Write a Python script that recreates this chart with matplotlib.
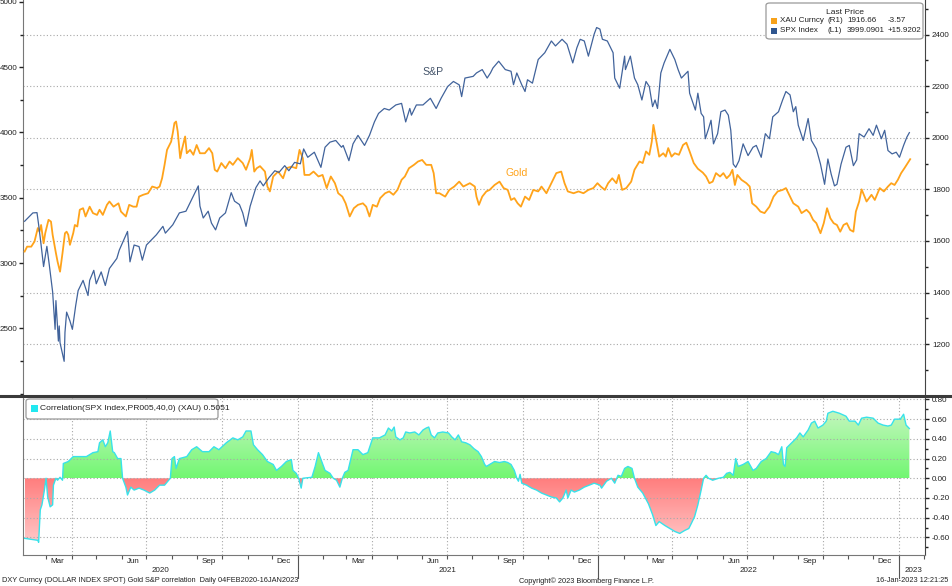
import numpy as np
import pandas as pd
import matplotlib
matplotlib.use("Agg")
import matplotlib.pyplot as plt
import matplotlib.dates as mdates
import matplotlib.transforms as mtransforms
from matplotlib import font_manager
from matplotlib.path import Path
from matplotlib.patches import FancyBboxPatch, Rectangle
from matplotlib.colors import LinearSegmentedColormap
from matplotlib.ticker import MultipleLocator, FixedLocator, FuncFormatter

# S&P 500 (SPX Index, left axis)
spx = [
    ("2020-02-04", 3320), ("2020-02-14", 3384), ("2020-02-19", 3386), ("2020-02-21", 3293),
    ("2020-02-24", 3138), ("2020-02-27", 2973), ("2020-03-02", 3128), ("2020-03-05", 2983),
    ("2020-03-09", 2779), ("2020-03-12", 2492), ("2020-03-13", 2712), ("2020-03-16", 2402),
    ("2020-03-17", 2518), ("2020-03-18", 2389), ("2020-03-23", 2247), ("2020-03-24", 2469),
    ("2020-03-26", 2624), ("2020-03-30", 2557), ("2020-04-02", 2492), ("2020-04-06", 2673),
    ("2020-04-09", 2789), ("2020-04-15", 2867), ("2020-04-21", 2751), ("2020-04-23", 2867),
    ("2020-04-28", 2944), ("2020-05-01", 2841), ("2020-05-07", 2932), ("2020-05-12", 2828),
    ("2020-05-17", 2958), ("2020-05-26", 3035), ("2020-05-29", 3099), ("2020-06-08", 3242),
    ("2020-06-11", 3009), ("2020-06-16", 3138), ("2020-06-22", 3126), ("2020-06-26", 3022),
    ("2020-07-01", 3138), ("2020-07-07", 3177), ("2020-07-13", 3216), ("2020-07-21", 3281),
    ("2020-07-24", 3229), ("2020-08-02", 3293), ("2020-08-10", 3384), ("2020-08-18", 3397),
    ("2020-08-26", 3500), ("2020-09-02", 3591), ("2020-09-04", 3436), ("2020-09-08", 3345),
    ("2020-09-14", 3397), ("2020-09-18", 3306), ("2020-09-23", 3254), ("2020-09-28", 3345),
    ("2020-10-05", 3384), ("2020-10-12", 3539), ("2020-10-16", 3474), ("2020-10-22", 3448),
    ("2020-10-26", 3384), ("2020-10-30", 3281), ("2020-11-04", 3435), ("2020-11-09", 3539),
    ("2020-11-11", 3578), ("2020-11-16", 3629), ("2020-11-20", 3591), ("2020-11-27", 3655),
    ("2020-12-04", 3707), ("2020-12-09", 3694), ("2020-12-16", 3746), ("2020-12-21", 3707),
    ("2020-12-28", 3771), ("2021-01-04", 3760), ("2021-01-08", 3874), ("2021-01-13", 3810),
    ("2021-01-21", 3849), ("2021-01-29", 3733), ("2021-02-03", 3887), ("2021-02-09", 3926),
    ("2021-02-16", 3939), ("2021-02-23", 3887), ("2021-02-25", 3901), ("2021-03-04", 3784),
    ("2021-03-09", 3913), ("2021-03-15", 3978), ("2021-03-23", 3901), ("2021-03-29", 3978),
    ("2021-04-04", 4081), ("2021-04-09", 4146), ("2021-04-16", 4184), ("2021-04-22", 4172),
    ("2021-04-30", 4211), ("2021-05-07", 4223), ("2021-05-12", 4081), ("2021-05-17", 4184),
    ("2021-05-19", 4133), ("2021-05-25", 4211), ("2021-06-02", 4211), ("2021-06-11", 4262),
    ("2021-06-18", 4184), ("2021-06-24", 4262), ("2021-07-02", 4352), ("2021-07-09", 4391),
    ("2021-07-16", 4365), ("2021-07-19", 4275), ("2021-07-23", 4417), ("2021-08-02", 4430),
    ("2021-08-06", 4456), ("2021-08-13", 4482), ("2021-08-19", 4417), ("2021-08-23", 4456),
    ("2021-08-26", 4494), ("2021-09-02", 4546), ("2021-09-10", 4482), ("2021-09-17", 4469),
    ("2021-09-20", 4366), ("2021-09-24", 4456), ("2021-09-30", 4366), ("2021-10-04", 4314),
    ("2021-10-07", 4404), ("2021-10-13", 4378), ("2021-10-20", 4559), ("2021-10-28", 4611),
    ("2021-11-05", 4701), ("2021-11-10", 4663), ("2021-11-18", 4714), ("2021-11-24", 4676),
    ("2021-12-01", 4533), ("2021-12-06", 4649), ("2021-12-10", 4714), ("2021-12-15", 4701),
    ("2021-12-20", 4585), ("2021-12-27", 4753), ("2021-12-30", 4804), ("2022-01-03", 4792),
    ("2022-01-06", 4714), ("2022-01-12", 4701), ("2022-01-19", 4611), ("2022-01-21", 4417),
    ("2022-01-27", 4339), ("2022-02-02", 4585), ("2022-02-03", 4482), ("2022-02-09", 4585),
    ("2022-02-14", 4417), ("2022-02-18", 4366), ("2022-02-23", 4249), ("2022-02-28", 4391),
    ("2022-03-04", 4352), ("2022-03-08", 4198), ("2022-03-11", 4249), ("2022-03-14", 4184),
    ("2022-03-18", 4456), ("2022-03-22", 4533), ("2022-03-29", 4637), ("2022-04-04", 4559),
    ("2022-04-08", 4482), ("2022-04-12", 4417), ("2022-04-20", 4469), ("2022-04-22", 4301),
    ("2022-04-29", 4172), ("2022-05-02", 4301), ("2022-05-06", 4146), ("2022-05-09", 4120),
    ("2022-05-11", 3952), ("2022-05-15", 4029), ("2022-05-18", 4094), ("2022-05-21", 3913),
    ("2022-05-26", 3991), ("2022-05-30", 4159), ("2022-06-04", 4172), ("2022-06-08", 4133),
    ("2022-06-11", 4017), ("2022-06-14", 3758), ("2022-06-17", 3733), ("2022-06-21", 3784),
    ("2022-06-26", 3913), ("2022-07-02", 3823), ("2022-07-08", 3887), ("2022-07-12", 3901),
    ("2022-07-18", 3810), ("2022-07-23", 3991), ("2022-07-28", 3952), ("2022-08-01", 4120),
    ("2022-08-08", 4159), ("2022-08-13", 4249), ("2022-08-17", 4314), ("2022-08-22", 4288),
    ("2022-08-26", 4159), ("2022-08-29", 4198), ("2022-09-01", 4056), ("2022-09-07", 3939),
    ("2022-09-13", 4107), ("2022-09-17", 3939), ("2022-09-23", 3874), ("2022-09-28", 3758),
    ("2022-10-03", 3603), ("2022-10-07", 3797), ("2022-10-11", 3681), ("2022-10-15", 3591),
    ("2022-10-18", 3603), ("2022-10-23", 3758), ("2022-10-29", 3887), ("2022-11-02", 3901),
    ("2022-11-07", 3746), ("2022-11-11", 3790), ("2022-11-14", 3991), ("2022-11-20", 3965),
    ("2022-11-26", 4029), ("2022-12-01", 3978), ("2022-12-05", 4056), ("2022-12-11", 3952),
    ("2022-12-15", 4017), ("2022-12-19", 3862), ("2022-12-24", 3836), ("2022-12-29", 3849),
    ("2023-01-02", 3810), ("2023-01-07", 3901), ("2023-01-11", 3965), ("2023-01-14", 3999),
]

# Gold (XAU Curncy, right axis)
gold = [
    ("2020-02-04", 1559), ("2020-02-07", 1578), ("2020-02-12", 1578), ("2020-02-16", 1598),
    ("2020-02-20", 1650), ("2020-02-22", 1636), ("2020-02-24", 1662), ("2020-02-27", 1591),
    ("2020-02-29", 1630), ("2020-03-04", 1682), ("2020-03-07", 1675), ("2020-03-09", 1624),
    ("2020-03-13", 1553), ("2020-03-15", 1520), ("2020-03-18", 1481), ("2020-03-21", 1553),
    ("2020-03-24", 1630), ("2020-03-26", 1636), ("2020-03-28", 1624), ("2020-03-30", 1585),
    ("2020-04-03", 1630), ("2020-04-05", 1662), ("2020-04-08", 1656), ("2020-04-11", 1721),
    ("2020-04-15", 1727), ("2020-04-18", 1695), ("2020-04-23", 1733), ("2020-04-27", 1708),
    ("2020-05-02", 1701), ("2020-05-05", 1721), ("2020-05-09", 1701), ("2020-05-14", 1740),
    ("2020-05-17", 1753), ("2020-05-22", 1733), ("2020-05-28", 1746), ("2020-05-31", 1714),
    ("2020-06-06", 1695), ("2020-06-10", 1740), ("2020-06-15", 1733), ("2020-06-19", 1733),
    ("2020-06-22", 1772), ("2020-06-27", 1779), ("2020-07-03", 1785), ("2020-07-08", 1811),
    ("2020-07-14", 1805), ("2020-07-17", 1811), ("2020-07-20", 1843), ("2020-07-23", 1895),
    ("2020-07-26", 1953), ("2020-07-29", 1972), ("2020-07-31", 1985), ("2020-08-02", 2018),
    ("2020-08-04", 2057), ("2020-08-06", 2063), ("2020-08-08", 2024), ("2020-08-11", 1921),
    ("2020-08-13", 1953), ("2020-08-17", 2005), ("2020-08-19", 1940), ("2020-08-23", 1953),
    ("2020-08-27", 1934), ("2020-08-31", 1972), ("2020-09-04", 1940), ("2020-09-10", 1940),
    ("2020-09-15", 1960), ("2020-09-19", 1940), ("2020-09-22", 1876), ("2020-09-25", 1869),
    ("2020-09-30", 1902), ("2020-10-05", 1882), ("2020-10-10", 1908), ("2020-10-14", 1895),
    ("2020-10-20", 1921), ("2020-10-26", 1902), ("2020-10-30", 1876), ("2020-11-04", 1920),
    ("2020-11-06", 1953), ("2020-11-09", 1869), ("2020-11-12", 1882), ("2020-11-16", 1890),
    ("2020-11-22", 1869), ("2020-11-25", 1811), ("2020-11-28", 1792), ("2020-12-02", 1850),
    ("2020-12-08", 1869), ("2020-12-14", 1843), ("2020-12-18", 1882), ("2020-12-24", 1888),
    ("2020-12-30", 1882), ("2021-01-03", 1953), ("2021-01-07", 1921), ("2021-01-09", 1856),
    ("2021-01-15", 1856), ("2021-01-20", 1869), ("2021-01-26", 1850), ("2021-01-31", 1856),
    ("2021-02-05", 1805), ("2021-02-10", 1850), ("2021-02-15", 1824), ("2021-02-19", 1785),
    ("2021-02-24", 1772), ("2021-02-28", 1746), ("2021-03-05", 1695), ("2021-03-10", 1727),
    ("2021-03-15", 1740), ("2021-03-21", 1746), ("2021-03-25", 1733), ("2021-03-29", 1695),
    ("2021-04-02", 1740), ("2021-04-07", 1733), ("2021-04-11", 1766), ("2021-04-17", 1785),
    ("2021-04-22", 1792), ("2021-04-27", 1779), ("2021-05-02", 1798), ("2021-05-07", 1837),
    ("2021-05-11", 1850), ("2021-05-16", 1882), ("2021-05-22", 1895), ("2021-05-27", 1908),
    ("2021-06-01", 1914), ("2021-06-06", 1895), ("2021-06-12", 1895), ("2021-06-15", 1863),
    ("2021-06-18", 1785), ("2021-06-22", 1785), ("2021-06-29", 1772), ("2021-07-04", 1798),
    ("2021-07-10", 1811), ("2021-07-16", 1830), ("2021-07-21", 1811), ("2021-07-29", 1824),
    ("2021-08-04", 1811), ("2021-08-06", 1772), ("2021-08-09", 1740), ("2021-08-13", 1772),
    ("2021-08-18", 1792), ("2021-08-22", 1798), ("2021-08-28", 1817), ("2021-09-03", 1830),
    ("2021-09-08", 1805), ("2021-09-13", 1798), ("2021-09-17", 1759), ("2021-09-21", 1766),
    ("2021-09-25", 1746), ("2021-09-29", 1733), ("2021-10-04", 1772), ("2021-10-09", 1759),
    ("2021-10-14", 1798), ("2021-10-20", 1792), ("2021-10-24", 1811), ("2021-10-30", 1785),
    ("2021-11-05", 1824), ("2021-11-11", 1863), ("2021-11-17", 1869), ("2021-11-21", 1824),
    ("2021-11-25", 1792), ("2021-12-02", 1785), ("2021-12-08", 1792), ("2021-12-14", 1785),
    ("2021-12-20", 1798), ("2021-12-26", 1805), ("2021-12-31", 1824), ("2022-01-04", 1811),
    ("2022-01-09", 1798), ("2022-01-13", 1824), ("2022-01-18", 1843), ("2022-01-23", 1824),
    ("2022-01-26", 1856), ("2022-01-30", 1798), ("2022-02-04", 1805), ("2022-02-10", 1830),
    ("2022-02-14", 1876), ("2022-02-20", 1908), ("2022-02-24", 1902), ("2022-02-28", 1947),
    ("2022-03-04", 1934), ("2022-03-07", 1985), ("2022-03-09", 2050), ("2022-03-12", 1998),
    ("2022-03-16", 1927), ("2022-03-21", 1940), ("2022-03-24", 1927), ("2022-03-27", 1960),
    ("2022-03-31", 1927), ("2022-04-04", 1940), ("2022-04-09", 1934), ("2022-04-14", 1972),
    ("2022-04-18", 1981), ("2022-04-22", 1947), ("2022-04-27", 1902), ("2022-05-02", 1880),
    ("2022-05-08", 1865), ("2022-05-12", 1850), ("2022-05-16", 1824), ("2022-05-20", 1830),
    ("2022-05-24", 1863), ("2022-05-29", 1850), ("2022-06-02", 1863), ("2022-06-06", 1843),
    ("2022-06-10", 1856), ("2022-06-13", 1876), ("2022-06-16", 1817), ("2022-06-19", 1856),
    ("2022-06-24", 1837), ("2022-06-30", 1824), ("2022-07-04", 1811), ("2022-07-07", 1746),
    ("2022-07-12", 1733), ("2022-07-17", 1714), ("2022-07-22", 1708), ("2022-07-28", 1733),
    ("2022-08-02", 1772), ("2022-08-07", 1792), ("2022-08-13", 1798), ("2022-08-17", 1805),
    ("2022-08-21", 1779), ("2022-08-26", 1746), ("2022-09-01", 1733), ("2022-09-05", 1708),
    ("2022-09-11", 1721), ("2022-09-15", 1708), ("2022-09-19", 1682), ("2022-09-23", 1669),
    ("2022-09-28", 1630), ("2022-10-02", 1669), ("2022-10-06", 1727), ("2022-10-10", 1688),
    ("2022-10-14", 1669), ("2022-10-18", 1662), ("2022-10-22", 1636), ("2022-10-26", 1662),
    ("2022-10-30", 1669), ("2022-11-03", 1643), ("2022-11-07", 1636), ("2022-11-10", 1714),
    ("2022-11-14", 1753), ("2022-11-17", 1800), ("2022-11-23", 1753), ("2022-11-29", 1779),
    ("2022-12-03", 1759), ("2022-12-09", 1805), ("2022-12-14", 1792), ("2022-12-19", 1811),
    ("2022-12-23", 1824), ("2022-12-27", 1817), ("2022-12-31", 1837), ("2023-01-04", 1863),
    ("2023-01-08", 1882), ("2023-01-12", 1902), ("2023-01-15", 1917),
]

# 40-day correlation SPX vs XAU
corr = [
    ("2020-02-04", -0.61), ("2020-02-12", -0.62), ("2020-02-20", -0.63), ("2020-02-21", -0.65),
    ("2020-02-23", -0.32), ("2020-02-25", -0.27), ("2020-02-28", -0.12), ("2020-03-01", 0.0),
    ("2020-03-03", -0.19), ("2020-03-06", -0.29), ("2020-03-09", -0.27), ("2020-03-10", -0.07),
    ("2020-03-13", 0.0), ("2020-03-15", -0.02), ("2020-03-18", 0.01), ("2020-03-21", -0.02),
    ("2020-03-22", 0.15), ("2020-03-28", 0.17), ("2020-04-03", 0.22), ("2020-04-11", 0.22),
    ("2020-04-19", 0.22), ("2020-04-27", 0.26), ("2020-05-03", 0.27), ("2020-05-05", 0.36),
    ("2020-05-09", 0.39), ("2020-05-12", 0.32), ("2020-05-15", 0.36), ("2020-05-18", 0.48),
    ("2020-05-21", 0.27), ("2020-05-23", 0.26), ("2020-05-27", 0.20), ("2020-05-31", 0.20),
    ("2020-06-02", 0.0), ("2020-06-06", -0.09), ("2020-06-08", -0.17), ("2020-06-12", -0.09),
    ("2020-06-16", -0.12), ("2020-06-22", -0.10), ("2020-06-28", -0.12), ("2020-07-05", -0.15),
    ("2020-07-11", -0.12), ("2020-07-17", -0.07), ("2020-07-23", -0.07), ("2020-07-27", -0.03),
    ("2020-07-30", 0.0), ("2020-08-01", 0.20), ("2020-08-04", 0.22), ("2020-08-06", 0.10),
    ("2020-08-10", 0.20), ("2020-08-19", 0.22), ("2020-08-25", 0.29), ("2020-08-31", 0.32),
    ("2020-09-07", 0.27), ("2020-09-15", 0.27), ("2020-09-21", 0.32), ("2020-09-27", 0.29),
    ("2020-10-06", 0.36), ("2020-10-14", 0.41), ("2020-10-20", 0.39), ("2020-10-26", 0.42),
    ("2020-10-30", 0.48), ("2020-11-05", 0.48), ("2020-11-08", 0.34), ("2020-11-13", 0.29),
    ("2020-11-19", 0.24), ("2020-11-25", 0.17), ("2020-12-02", 0.14), ("2020-12-06", 0.08),
    ("2020-12-12", 0.12), ("2020-12-18", 0.17), ("2020-12-24", 0.19), ("2020-12-26", 0.08),
    ("2020-12-30", 0.05), ("2021-01-02", 0.0), ("2021-01-05", -0.10), ("2021-01-07", 0.0),
    ("2021-01-18", 0.01), ("2021-01-22", 0.12), ("2021-01-26", 0.26), ("2021-01-30", 0.17),
    ("2021-02-03", 0.08), ("2021-02-09", 0.05), ("2021-02-13", 0.0), ("2021-02-17", -0.02),
    ("2021-02-21", -0.09), ("2021-02-24", 0.0), ("2021-02-27", 0.06), ("2021-03-03", 0.08),
    ("2021-03-09", 0.29), ("2021-03-15", 0.29), ("2021-03-21", 0.24), ("2021-03-27", 0.26),
    ("2021-04-02", 0.41), ("2021-04-10", 0.41), ("2021-04-17", 0.44), ("2021-04-21", 0.51),
    ("2021-04-25", 0.48), ("2021-04-28", 0.52), ("2021-04-30", 0.42), ("2021-05-05", 0.39),
    ("2021-05-09", 0.41), ("2021-05-12", 0.47), ("2021-05-17", 0.46), ("2021-05-23", 0.47),
    ("2021-05-28", 0.44), ("2021-06-02", 0.49), ("2021-06-06", 0.51), ("2021-06-09", 0.52),
    ("2021-06-12", 0.44), ("2021-06-16", 0.41), ("2021-06-20", 0.46), ("2021-06-26", 0.47),
    ("2021-07-03", 0.46), ("2021-07-07", 0.42), ("2021-07-11", 0.39), ("2021-07-15", 0.44),
    ("2021-07-19", 0.37), ("2021-07-24", 0.36), ("2021-07-29", 0.34), ("2021-08-03", 0.30),
    ("2021-08-08", 0.27), ("2021-08-12", 0.22), ("2021-08-16", 0.14), ("2021-08-18", 0.12),
    ("2021-08-22", 0.14), ("2021-08-28", 0.17), ("2021-09-03", 0.16), ("2021-09-09", 0.17),
    ("2021-09-13", 0.16), ("2021-09-17", 0.14), ("2021-09-21", 0.08), ("2021-09-24", 0.0),
    ("2021-09-26", -0.03), ("2021-09-28", 0.04), ("2021-09-30", -0.05), ("2021-10-06", -0.07),
    ("2021-10-12", -0.10), ("2021-10-18", -0.12), ("2021-10-24", -0.15), ("2021-10-30", -0.17),
    ("2021-11-05", -0.19), ("2021-11-11", -0.20), ("2021-11-15", -0.24), ("2021-11-19", -0.20),
    ("2021-11-23", -0.12), ("2021-11-25", -0.20), ("2021-11-29", -0.12), ("2021-12-03", -0.14),
    ("2021-12-09", -0.12), ("2021-12-15", -0.09), ("2021-12-21", -0.07), ("2021-12-27", -0.05),
    ("2022-01-03", -0.07), ("2022-01-05", -0.10), ("2022-01-11", -0.03), ("2022-01-17", 0.0),
    ("2022-01-21", -0.05), ("2022-01-25", 0.03), ("2022-01-29", 0.02), ("2022-02-02", 0.10),
    ("2022-02-06", 0.12), ("2022-02-11", 0.10), ("2022-02-14", 0.0), ("2022-02-18", -0.09),
    ("2022-02-24", -0.15), ("2022-03-03", -0.26), ("2022-03-08", -0.37), ("2022-03-12", -0.48),
    ("2022-03-16", -0.44), ("2022-03-23", -0.48), ("2022-03-29", -0.51), ("2022-04-04", -0.54),
    ("2022-04-10", -0.56), ("2022-04-16", -0.53), ("2022-04-21", -0.51), ("2022-04-24", -0.46),
    ("2022-04-28", -0.39), ("2022-05-02", -0.27), ("2022-05-06", -0.12), ("2022-05-09", 0.0),
    ("2022-05-12", 0.03), ("2022-05-15", 0.0), ("2022-05-20", -0.02), ("2022-05-27", 0.0),
    ("2022-06-02", 0.01), ("2022-06-06", 0.05), ("2022-06-10", 0.06), ("2022-06-14", 0.03),
    ("2022-06-17", 0.20), ("2022-06-20", 0.12), ("2022-06-26", 0.14), ("2022-07-02", 0.17),
    ("2022-07-08", 0.08), ("2022-07-12", 0.10), ("2022-07-18", 0.17), ("2022-07-24", 0.20),
    ("2022-07-30", 0.27), ("2022-08-04", 0.26), ("2022-08-08", 0.24), ("2022-08-12", 0.32),
    ("2022-08-14", 0.14), ("2022-08-16", 0.12), ("2022-08-18", 0.31), ("2022-08-24", 0.36),
    ("2022-08-30", 0.41), ("2022-09-03", 0.46), ("2022-09-07", 0.42), ("2022-09-13", 0.49),
    ("2022-09-17", 0.56), ("2022-09-21", 0.58), ("2022-09-25", 0.51), ("2022-10-01", 0.54),
    ("2022-10-05", 0.58), ("2022-10-07", 0.66), ("2022-10-13", 0.68), ("2022-10-21", 0.66),
    ("2022-10-29", 0.63), ("2022-11-02", 0.58), ("2022-11-09", 0.58), ("2022-11-13", 0.54),
    ("2022-11-17", 0.61), ("2022-11-23", 0.62), ("2022-12-01", 0.61), ("2022-12-07", 0.56),
    ("2022-12-13", 0.54), ("2022-12-19", 0.53), ("2022-12-23", 0.54), ("2022-12-27", 0.60),
    ("2023-01-03", 0.60), ("2023-01-07", 0.65), ("2023-01-10", 0.54), ("2023-01-14", 0.5051),
]

spx_dates = pd.to_datetime([d for d, v in spx])
spx_vals = np.array([v for d, v in spx], dtype=float)
gold_dates = pd.to_datetime([d for d, v in gold])
gold_vals = np.array([v for d, v in gold], dtype=float)
corr_dates = pd.to_datetime([d for d, v in corr])
corr_vals = np.array([v for d, v in corr], dtype=float)

# fonts: Bloomberg uses a small narrow face
installed = {f.name for f in font_manager.fontManager.ttflist}
if "Liberation Sans Narrow" in installed:
    base_font, fs, fs_foot = "Liberation Sans Narrow", 6.6, 6.4
else:
    base_font, fs, fs_foot = "Liberation Sans", 5.8, 5.35
plt.rcParams["font.family"] = [base_font, "DejaVu Sans"]

W, H = 952, 586
fig = plt.figure(figsize=(W / 100, H / 100), dpi=100, facecolor="white")

def fx(px):
    return px / W

def fy(py):
    return 1 - py / H

xmin, xmax = pd.Timestamp("2020-02-02"), pd.Timestamp("2023-02-02")
grid_kw = dict(color="#a8a8a8", linestyle=(0, (1, 2)), linewidth=0.8)
tick_col = "#222222"

# ---- top panel: gold (right axis, grid) + SPX (left axis)
ax_g = fig.add_axes([fx(23), fy(395), fx(925 - 23), 395 / H])
ax_s = ax_g.twinx()

ax_g.set_xlim(xmin, xmax)
ax_g.set_ylim(1003, 2534)
ax_g.yaxis.tick_right()
ax_g.yaxis.set_major_locator(FixedLocator(np.arange(1200, 2401, 200)))
ax_g.yaxis.set_minor_locator(MultipleLocator(100))
ax_g.yaxis.grid(True, **grid_kw)
ax_g.set_xticks([])
ax_g.tick_params(axis="y", which="both", left=False, labelleft=False, right=True,
                 labelright=True, direction="out", width=1, colors=tick_col)
ax_g.tick_params(axis="y", which="major", length=3, labelsize=fs, pad=2)
ax_g.tick_params(axis="y", which="minor", length=2)
for s in ("top", "bottom"):
    ax_g.spines[s].set_visible(False)
ax_g.spines["right"].set_color("#444444")
ax_g.spines["left"].set_color("#777777")

ax_s.set_ylim(1989, 5015)
ax_s.yaxis.tick_left()
ax_s.yaxis.set_major_locator(FixedLocator(np.arange(2500, 5001, 500)))
ax_s.yaxis.set_minor_locator(FixedLocator(np.arange(2000, 5001, 250)))
ax_s.tick_params(axis="y", which="both", left=True, labelleft=True, right=False,
                 labelright=False, direction="out", width=1, colors=tick_col)
ax_s.tick_params(axis="y", which="major", length=3, labelsize=fs, pad=1)
ax_s.tick_params(axis="y", which="minor", length=2)
for s in ax_s.spines.values():
    s.set_visible(False)

ax_s.plot(spx_dates, spx_vals, color="#41639b", lw=0.9)
ax_g.plot(gold_dates, gold_vals, color="#ffa31a", lw=1.3, zorder=3)
ax_s.set_xlim(xmin, xmax)

ax_s.text(pd.Timestamp("2021-06-14"), 4461, "S&P", color="#44546a", fontsize=fs + 1.8,
          ha="center", va="center")
ax_g.text(pd.Timestamp("2021-09-24"), 1864, "Gold", color="#ffa31a", fontsize=fs + 1.8,
          ha="center", va="center")

# ---- bottom panel: correlation
ax_c = fig.add_axes([fx(23), fy(555), fx(925 - 23), (555 - 397) / H])
ax_c.set_xlim(xmin, xmax)
ax_c.set_ylim(-0.779, 0.825)
ax_c.yaxis.tick_right()
ax_c.yaxis.set_major_locator(FixedLocator(np.round(np.arange(-0.6, 0.81, 0.2), 2)))
ax_c.yaxis.set_minor_locator(MultipleLocator(0.1))
ax_c.yaxis.set_major_formatter(FuncFormatter(lambda v, p: f"{v:.2f}"))
ax_c.yaxis.grid(True, **grid_kw)
ax_c.tick_params(axis="y", which="major", right=True, left=False, direction="out",
                 length=3, width=1, colors=tick_col, labelsize=fs, pad=2)
ax_c.tick_params(axis="y", which="minor", right=True, left=False, direction="out",
                 length=2, width=1, colors=tick_col)
ax_c.spines["top"].set_visible(False)
for s in ("left", "bottom"):
    ax_c.spines[s].set_color("#777777")
ax_c.spines["right"].set_color("#444444")

for d in pd.date_range("2020-04-01", "2023-01-01", freq="QS"):
    ax_c.axvline(d, zorder=0.5, **grid_kw)

# gradient fills clipped to the positive / negative areas
cnum = mdates.date2num(corr_dates)
grad = np.linspace(0, 1, 256).reshape(-1, 1)
green = LinearSegmentedColormap.from_list("g", ["#72f772", "#c6f6c0"])
red = LinearSegmentedColormap.from_list("r", ["#ffc8c8", "#ff7c7c"])
for cond, cmap, lo, hi in ((corr_vals >= 0, green, 0, 0.7), (corr_vals <= 0, red, -0.66, 0)):
    pc = ax_c.fill_between(cnum, 0, corr_vals, where=cond, interpolate=True)
    paths = pc.get_paths()
    pc.remove()
    clip = Path.make_compound_path(*paths)
    im = ax_c.imshow(grad, extent=[cnum[0], cnum[-1], lo, hi], origin="lower",
                     aspect="auto", cmap=cmap, zorder=1)
    im.set_clip_path(clip, transform=ax_c.transData)
ax_c.plot(corr_dates, corr_vals, color="#38e2ea", lw=1.0, zorder=2)
ax_c.set_xlim(xmin, xmax)
ax_c.set_ylim(-0.779, 0.825)

ax_c.xaxis.set_minor_locator(mdates.MonthLocator())
ax_c.xaxis.set_major_locator(mdates.MonthLocator(bymonth=[3, 6, 9, 12], bymonthday=15))
ax_c.xaxis.set_major_formatter(mdates.DateFormatter("%b"))
ax_c.tick_params(axis="x", which="major", length=0, pad=2.5, labelsize=fs, colors=tick_col)
ax_c.tick_params(axis="x", which="minor", length=3, width=0.8, colors="#555555")

blend = mtransforms.blended_transform_factory(ax_c.transData, ax_c.transAxes)
for y in ("2021-01-01", "2022-01-01", "2023-01-01"):
    ax_c.plot([pd.Timestamp(y)] * 2, [-0.015, -0.145], transform=blend, color="#555555",
              lw=0.8, clip_on=False)
for y, lab in (("2020-07-18", "2020"), ("2021-07-02", "2021"), ("2022-07-02", "2022"),
               ("2023-01-19", "2023")):
    ax_c.text(pd.Timestamp(y), -0.10, lab, transform=blend, ha="center", va="center",
              fontsize=fs, color=tick_col)

# thick separator between panels
fig.add_artist(plt.Line2D([0, 1], [fy(395.5), fy(395.5)], transform=fig.transFigure,
                          color="#3a3a3a", lw=2.2))

# ---- legend boxes
box = FancyBboxPatch((fx(766), fy(39)), fx(923 - 766), (39 - 3) / H,
                     boxstyle="round,pad=0,rounding_size=0.004", transform=fig.transFigure,
                     facecolor="white", edgecolor="#9a9a9a", lw=0.9, zorder=10)
fig.add_artist(box)
fig.text(fx(845), fy(12), "Last Price", ha="center", va="center", fontsize=fs + 0.3,
         color="#222222", zorder=11)
rows = [("#f7a21b", "XAU Curncy", "(R1)", "1916.66", "-3.57", 21),
        ("#2f568f", "SPX Index", "(L1)", "3999.0901", "+15.9202", 31)]
for col, name, side, last, chg, py in rows:
    fig.add_artist(Rectangle((fx(770.5), fy(py + 3.2)), fx(6.5), 6.5 / H,
                             transform=fig.transFigure, facecolor=col, edgecolor="none",
                             zorder=11))
    for px, s in ((780, name), (827, side), (847, last), (888, chg)):
        fig.text(fx(px), fy(py), s, ha="left", va="center", fontsize=fs,
                 color="#222222", zorder=11)

box2 = FancyBboxPatch((fx(26), fy(419)), fx(218 - 26), (419 - 399) / H,
                      boxstyle="round,pad=0,rounding_size=0.004", transform=fig.transFigure,
                      facecolor="white", edgecolor="#9a9a9a", lw=0.9, zorder=10)
fig.add_artist(box2)
fig.add_artist(Rectangle((fx(31), fy(412)), fx(7), 7 / H, transform=fig.transFigure,
                         facecolor="#22e8f0", edgecolor="none", zorder=11))
fig.text(fx(40), fy(409), "Correlation(SPX Index,PR005,40,0) (XAU) 0.5051", ha="left",
         va="center", fontsize=fs + 0.3, color="#222222", zorder=11)

# ---- footer
fig.text(fx(2), fy(581), "DXY Curncy (DOLLAR INDEX SPOT) Gold S&P correlation  Daily 04FEB2020-16JAN2023",
         ha="left", va="center", fontsize=fs_foot, color="#222222")
fig.text(fx(586), fy(581), "Copyright\u00a9 2023 Bloomberg Finance L.P.", ha="center",
         va="center", fontsize=fs_foot, color="#222222")
fig.text(fx(948), fy(581), "16-Jan-2023 12:21:25", ha="right", va="center", fontsize=fs_foot,
         color="#222222")

fig.savefig("out.png", dpi=100, facecolor="white")
